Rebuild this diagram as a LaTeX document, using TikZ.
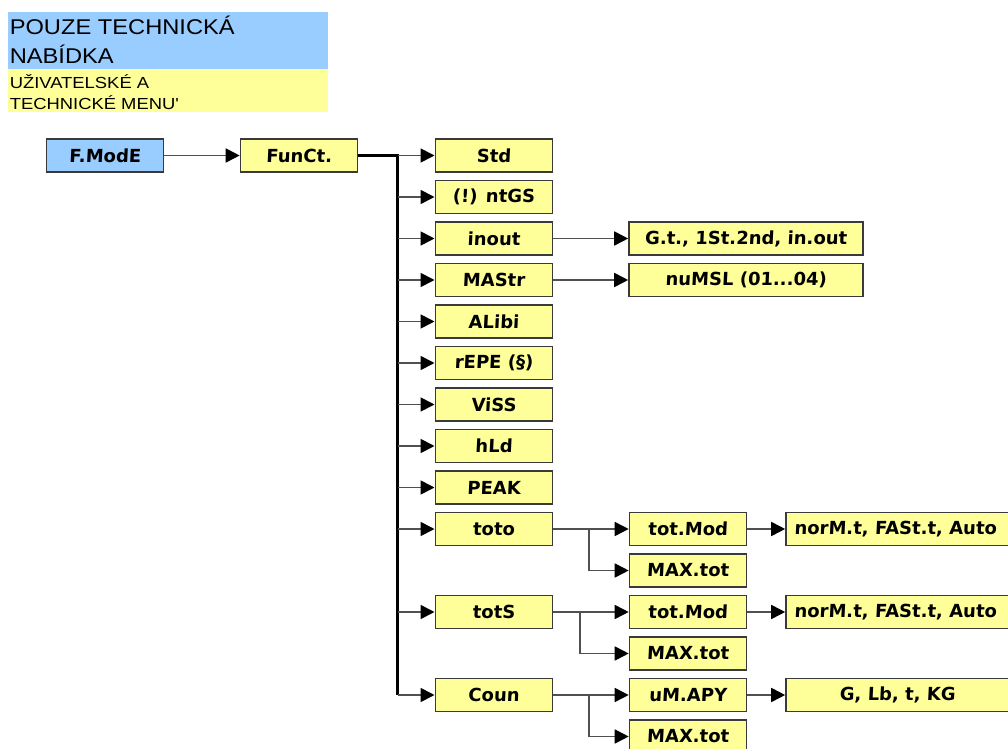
\documentclass[tikz,border=0pt]{standalone}
\usepackage{fontspec}
\usetikzlibrary{arrows.meta}
\newfontfamily\hdrfont[FakeStretch=1.11]{Liberation Sans}
\newfontfamily\subfont[FakeStretch=1.15]{Liberation Sans}
\newfontfamily\segfont[FakeSlant=0.05]{DejaVu Sans}
\definecolor{boxyel}{HTML}{FFFF99}
\definecolor{boxblue}{HTML}{99CCFF}
\definecolor{edgec}{HTML}{3A3A3A}
\definecolor{linec}{HTML}{505050}
\begin{document}
\begin{tikzpicture}[x=0.75pt,y=-0.75pt,
  mbox/.style={draw=edgec, line width=1.2pt, fill=boxyel, minimum height=24.75pt,
    inner sep=0pt, font=\segfont\bfseries\fontsize{13.5pt}{16pt}\selectfont},
  bluebox/.style={mbox, fill=boxblue},
  wa/.style={minimum width=87.75pt},
  wb/.style={minimum width=175.5pt},
  wc/.style={minimum width=167.25pt},
  conn/.style={draw=linec, line width=1.3pt, -{Triangle[length=10.5pt,width=10.5pt,color=black]}},
  plain/.style={draw=linec, line width=1.3pt},
  trunk/.style={draw=black, line width=1.6pt},
  hdr/.style={anchor=base west, inner sep=0pt, font=\hdrfont\fontsize{16pt}{19pt}\selectfont},
  hsub/.style={anchor=base west, inner sep=0pt, font=\subfont\fontsize{12pt}{14pt}\selectfont}
]
\useasboundingbox (0,0) rectangle (1008,749);
% header
\fill[boxblue] (8.3,12.3) rectangle (328,69);
\fill[boxyel] (8.3,69) rectangle (328,112.3);
\node[hdr] (h1) at (9.5,34.3) {POUZE TECHNICKÁ};
\node[hdr] (h2) at (9.5,63.3) {NABÍDKA};
\node[hsub] (h3) at (9.5,88.3) {UŽIVATELSKÉ A};
\node[hsub] (h4) at (9.5,110) {TECHNICKÉ MENU'};
% first level
\node[bluebox, wa] (fmode) at (105,155.5) {F.ModE};
\node[mbox, wa] (funct) at (299,155.5) {FunCt.};
% column 3
\node[mbox, wa] (std)   at (493.8,155.5) {Std};
\node[mbox, wa] (ntgs)  at (493.8,197)   {(!) ntGS};
\node[mbox, wa] (inout) at (493.8,238.5) {inout};
\node[mbox, wa] (mastr) at (493.8,280)   {MAStr};
\node[mbox, wa] (alibi) at (493.8,321.5) {ALibi};
\node[mbox, wa] (repe)  at (493.8,363)   {rEPE (§)};
\node[mbox, wa] (viss)  at (493.8,404.5) {ViSS};
\node[mbox, wa] (hld)   at (493.8,446)   {hLd};
\node[mbox, wa] (peak)  at (493.8,487.5) {PEAK};
\node[mbox, wa] (toto)  at (493.8,529)   {toto};
\node[mbox, wa] (tots)  at (493.8,612)   {totS};
\node[mbox, wa] (coun)  at (493.8,695)   {Coun};
% column 4
\node[mbox, wb] (gt)    at (746,238.5) {G.t., 1St.2nd, in.out};
\node[mbox, wb] (numsl) at (746,280)   {nuMSL (01...04)};
\node[mbox, wa] (tmodA) at (688,529)   {tot.Mod};
\node[mbox, wa] (maxA)  at (688,570.5) {MAX.tot};
\node[mbox, wa] (tmodB) at (688,612)   {tot.Mod};
\node[mbox, wa] (maxB)  at (688,653.5) {MAX.tot};
\node[mbox, wa] (uapy)  at (688,695)   {uM.APY};
\node[mbox, wa] (maxC)  at (688,736.5) {MAX.tot};
% column 5
\node[mbox, wc] (normA) at (897.5,529) {};
\node[anchor=west, inner sep=0pt, font=\segfont\bfseries\fontsize{13.5pt}{16pt}\selectfont] (normAt) at (794,529) {norM.t, FASt.t, Auto};
\node[mbox, wc] (normB) at (897.5,612) {};
\node[anchor=west, inner sep=0pt, font=\segfont\bfseries\fontsize{13.5pt}{16pt}\selectfont] (normBt) at (794,612) {norM.t, FASt.t, Auto};
\node[mbox, wc] (units) at (897.5,695) {G, Lb, t, KG};
% connectors
\draw[conn] (fmode) -- (funct);
\coordinate (jt) at (397.5,155.5);
\coordinate (jb) at (397.5,695);
\draw[trunk] (funct.east) -- (jt) -- (jb);
\draw[conn] (jt) -- (std);
\foreach \n in {ntgs,inout,mastr,alibi,repe,viss,hld,peak,toto,tots,coun}
  \draw[conn] (jt |- \n) -- (\n);
\draw[conn] (inout) -- (gt);
\draw[conn] (mastr) -- (numsl);
\coordinate (ja) at (589,529);
\coordinate (jbb) at (580,612);
\coordinate (jc) at (589,695);
\draw[plain] (toto) -- (ja);
\draw[conn] (ja) -- (tmodA);
\draw[conn] (ja) |- (maxA);
\draw[plain] (tots) -- (jbb);
\draw[conn] (jbb) -- (tmodB);
\draw[conn] (jbb) |- (maxB);
\draw[plain] (coun) -- (jc);
\draw[conn] (jc) -- (uapy);
\draw[conn] (jc) |- (maxC);
\draw[conn] (tmodA) -- (normA);
\draw[conn] (tmodB) -- (normB);
\draw[conn] (uapy) -- (units);
\end{tikzpicture}
\end{document}
